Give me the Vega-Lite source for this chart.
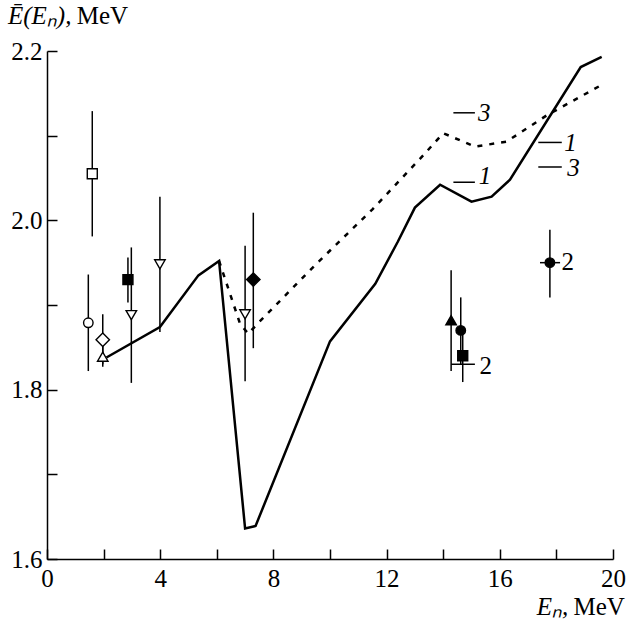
{
  "$schema": "https://vega.github.io/schema/vega-lite/v6.json",
  "width": 566,
  "height": 508,
  "autosize": {"type": "none"},
  "padding": {"left": 47, "top": 51, "right": 15, "bottom": 61},
  "background": "white",
  "config": {
    "view": {"stroke": null},
    "font": "Liberation Serif",
    "text": {"font": "Liberation Serif"},
    "axis": {
      "domainColor": "black",
      "domainWidth": 1.5,
      "tickColor": "black",
      "tickWidth": 1.5,
      "tickSize": -10,
      "labelFont": "Liberation Serif",
      "labelFontSize": 25,
      "labelColor": "black",
      "labelFlush": false,
      "grid": false
    }
  },
  "datasets": {
    "solid": [
      {"E": 2.1, "Ebar": 1.838},
      {"E": 3.99, "Ebar": 1.874},
      {"E": 5.35, "Ebar": 1.935},
      {"E": 6.08, "Ebar": 1.952},
      {"E": 7.0, "Ebar": 1.636},
      {"E": 7.37, "Ebar": 1.639},
      {"E": 10.0, "Ebar": 1.857},
      {"E": 11.6, "Ebar": 1.925},
      {"E": 12.4, "Ebar": 1.975},
      {"E": 13.0, "Ebar": 2.015},
      {"E": 13.89, "Ebar": 2.042},
      {"E": 15.0, "Ebar": 2.022},
      {"E": 15.71, "Ebar": 2.028},
      {"E": 16.36, "Ebar": 2.048},
      {"E": 18.86, "Ebar": 2.181},
      {"E": 19.6, "Ebar": 2.193}
    ],
    "dashed": [
      {"E": 6.08, "Ebar": 1.952},
      {"E": 6.82, "Ebar": 1.878},
      {"E": 7.11, "Ebar": 1.866},
      {"E": 7.47, "Ebar": 1.879},
      {"E": 9.47, "Ebar": 1.947},
      {"E": 11.5, "Ebar": 2.013},
      {"E": 13.3, "Ebar": 2.077},
      {"E": 14.0, "Ebar": 2.103},
      {"E": 15.12, "Ebar": 2.087},
      {"E": 16.24, "Ebar": 2.093},
      {"E": 17.66, "Ebar": 2.124},
      {"E": 19.6, "Ebar": 2.16}
    ],
    "points": [
      {"set": "circle-open", "E": 1.46, "Ebar": 1.879, "lo": 1.822, "hi": 1.936},
      {"set": "square-open", "E": 1.6, "Ebar": 2.055, "lo": 1.981, "hi": 2.129},
      {"set": "diamond-open", "E": 1.97, "Ebar": 1.859, "lo": 1.83, "hi": 1.889},
      {"set": "triangle-up-open", "E": 1.97, "Ebar": 1.839, "lo": 1.827, "hi": 1.851},
      {"set": "square-filled", "E": 2.86, "Ebar": 1.93, "lo": 1.903, "hi": 1.956},
      {"set": "triangle-down-open", "E": 2.98, "Ebar": 1.888, "lo": 1.808, "hi": 1.968},
      {"set": "triangle-down-open", "E": 3.99, "Ebar": 1.948, "lo": 1.868, "hi": 2.028},
      {"set": "triangle-down-open", "E": 7.0, "Ebar": 1.889, "lo": 1.81, "hi": 1.97},
      {"set": "diamond-filled", "E": 7.29, "Ebar": 1.93, "lo": 1.849, "hi": 2.009},
      {"set": "triangle-up-filled", "E": 14.28, "Ebar": 1.882, "lo": 1.822, "hi": 1.941},
      {"set": "circle-filled", "E": 14.62, "Ebar": 1.87, "lo": 1.83, "hi": 1.909},
      {"set": "square-filled", "E": 14.69, "Ebar": 1.84, "lo": 1.809, "hi": 1.87},
      {"set": "circle-filled", "E": 17.77, "Ebar": 1.95, "lo": 1.909, "hi": 1.989}
    ],
    "labels": [
      {"curve": "3", "x1": 14.36, "x2": 15.12, "ly": 2.127, "tx": 15.45, "ty": 2.127},
      {"curve": "1", "x1": 14.36, "x2": 15.12, "ly": 2.045, "tx": 15.48, "ty": 2.052},
      {"curve": "1", "x1": 17.36, "x2": 18.19, "ly": 2.092, "tx": 18.5, "ty": 2.091},
      {"curve": "3", "x1": 17.36, "x2": 18.19, "ly": 2.063, "tx": 18.6, "ty": 2.062},
      {"curve": "2", "x1": 14.28, "x2": 15.12, "ly": 1.83, "tx": 15.5, "ty": 1.828},
      {"curve": "2", "x1": 17.42, "x2": 18.13, "ly": 1.95, "tx": 18.4, "ty": 1.951}
    ]
  },
  "layer": [
    {
      "data": {"name": "solid"},
      "mark": {"type": "line", "color": "black", "strokeWidth": 2.5, "strokeJoin": "miter"},
      "encoding": {
        "x": {
          "field": "E", "type": "quantitative", "title": null,
          "scale": {"domain": [0, 20], "nice": false},
          "axis": {
            "values": [0, 2, 4, 6, 8, 10, 12, 14, 16, 18, 20],
            "format": "d",
            "labelExpr": "datum.value % 4 === 0 ? datum.label : ''",
            "labelPadding": 17
          }
        },
        "y": {
          "field": "Ebar", "type": "quantitative", "title": null,
          "scale": {"domain": [1.6, 2.2], "nice": false, "zero": false},
          "axis": {
            "values": [1.6, 1.7, 1.8, 1.9, 2.0, 2.1, 2.2],
            "labelExpr": "round(datum.value * 10) % 2 === 0 ? format(datum.value, '.1f') : ''",
            "labelPadding": 15
          }
        }
      }
    },
    {
      "data": {"name": "dashed"},
      "mark": {"type": "line", "color": "black", "strokeWidth": 2.5, "strokeDash": [5, 7]},
      "encoding": {
        "x": {"field": "E", "type": "quantitative", "title": null},
        "y": {"field": "Ebar", "type": "quantitative", "title": null}
      }
    },
    {
      "data": {"name": "points"},
      "mark": {"type": "rule", "color": "black", "strokeWidth": 1.5},
      "encoding": {
        "x": {"field": "E", "type": "quantitative", "title": null},
        "y": {"field": "lo", "type": "quantitative", "title": null},
        "y2": {"field": "hi"}
      }
    },
    {
      "data": {"name": "points"},
      "transform": [{"filter": "datum.set === 'circle-open' || datum.set === 'circle-filled'"}],
      "mark": {"type": "point", "shape": "circle", "size": 90, "filled": true, "stroke": "black", "strokeWidth": 1.4, "opacity": 1},
      "encoding": {
        "x": {"field": "E", "type": "quantitative", "title": null},
        "y": {"field": "Ebar", "type": "quantitative", "title": null},
        "fill": {"field": "set", "type": "nominal", "legend": null, "scale": {"domain": ["circle-open", "circle-filled"], "range": ["white", "black"]}}
      }
    },
    {
      "data": {"name": "points"},
      "transform": [{"filter": "datum.set === 'square-open' || datum.set === 'square-filled'"}],
      "mark": {"type": "point", "shape": "square", "size": 100, "filled": true, "stroke": "black", "strokeWidth": 1.4, "opacity": 1},
      "encoding": {
        "x": {"field": "E", "type": "quantitative", "title": null},
        "y": {"field": "Ebar", "type": "quantitative", "title": null},
        "fill": {"field": "set", "type": "nominal", "legend": null, "scale": {"domain": ["square-open", "square-filled"], "range": ["white", "black"]}}
      }
    },
    {
      "data": {"name": "points"},
      "transform": [{"filter": "datum.set === 'diamond-open' || datum.set === 'diamond-filled'"}],
      "mark": {"type": "point", "shape": "M-1,0L0,-1L1,0L0,1Z", "size": 180, "filled": true, "stroke": "black", "strokeWidth": 1.4, "opacity": 1},
      "encoding": {
        "x": {"field": "E", "type": "quantitative", "title": null},
        "y": {"field": "Ebar", "type": "quantitative", "title": null},
        "fill": {"field": "set", "type": "nominal", "legend": null, "scale": {"domain": ["diamond-open", "diamond-filled"], "range": ["white", "black"]}}
      }
    },
    {
      "data": {"name": "points"},
      "transform": [{"filter": "datum.set === 'triangle-up-open' || datum.set === 'triangle-up-filled'"}],
      "mark": {"type": "point", "shape": "triangle-up", "size": 110, "filled": true, "stroke": "black", "strokeWidth": 1.4, "opacity": 1},
      "encoding": {
        "x": {"field": "E", "type": "quantitative", "title": null},
        "y": {"field": "Ebar", "type": "quantitative", "title": null},
        "fill": {"field": "set", "type": "nominal", "legend": null, "scale": {"domain": ["triangle-up-open", "triangle-up-filled"], "range": ["white", "black"]}}
      }
    },
    {
      "data": {"name": "points"},
      "transform": [{"filter": "datum.set === 'triangle-down-open'"}],
      "mark": {"type": "point", "shape": "triangle-down", "size": 110, "filled": true, "fill": "white", "stroke": "black", "strokeWidth": 1.4, "opacity": 1},
      "encoding": {
        "x": {"field": "E", "type": "quantitative", "title": null},
        "y": {"field": "Ebar", "type": "quantitative", "title": null}
      }
    },
    {
      "data": {"name": "labels"},
      "mark": {"type": "rule", "color": "black", "strokeWidth": 1.5},
      "encoding": {
        "x": {"field": "x1", "type": "quantitative", "title": null},
        "x2": {"field": "x2"},
        "y": {"field": "ly", "type": "quantitative", "title": null}
      }
    },
    {
      "data": {"name": "labels"},
      "transform": [{"filter": "datum.curve !== '2'"}],
      "mark": {"type": "text", "font": "Liberation Serif", "fontSize": 25, "fontStyle": "italic", "align": "center", "baseline": "middle", "color": "black"},
      "encoding": {
        "x": {"field": "tx", "type": "quantitative", "title": null},
        "y": {"field": "ty", "type": "quantitative", "title": null},
        "text": {"field": "curve"}
      }
    },
    {
      "data": {"name": "labels"},
      "transform": [{"filter": "datum.curve === '2'"}],
      "mark": {"type": "text", "font": "Liberation Serif", "fontSize": 25, "align": "center", "baseline": "middle", "color": "black"},
      "encoding": {
        "x": {"field": "tx", "type": "quantitative", "title": null},
        "y": {"field": "ty", "type": "quantitative", "title": null},
        "text": {"field": "curve"}
      }
    },
    {
      "data": {"values": [{"t": "Ē(Eₙ),", "x": -1.38, "y": 2.2413}]},
      "mark": {"type": "text", "font": "Liberation Serif", "fontSize": 25, "fontStyle": "italic", "align": "left", "baseline": "middle", "color": "black"},
      "encoding": {
        "x": {"field": "x", "type": "quantitative", "title": null},
        "y": {"field": "y", "type": "quantitative", "title": null},
        "text": {"field": "t"}
      }
    },
    {
      "data": {"values": [{"t": "MeV", "x": 1.05, "y": 2.2413}]},
      "mark": {"type": "text", "font": "Liberation Serif", "fontSize": 25, "align": "left", "baseline": "middle", "color": "black"},
      "encoding": {
        "x": {"field": "x", "type": "quantitative", "title": null},
        "y": {"field": "y", "type": "quantitative", "title": null},
        "text": {"field": "t"}
      }
    },
    {
      "data": {"values": [{"t": "Eₙ,", "x": 18.42, "y": 1.5433}]},
      "mark": {"type": "text", "font": "Liberation Serif", "fontSize": 25, "fontStyle": "italic", "align": "right", "baseline": "middle", "color": "black"},
      "encoding": {
        "x": {"field": "x", "type": "quantitative", "title": null},
        "y": {"field": "y", "type": "quantitative", "title": null},
        "text": {"field": "t"}
      }
    },
    {
      "data": {"values": [{"t": "MeV", "x": 20.42, "y": 1.5433}]},
      "mark": {"type": "text", "font": "Liberation Serif", "fontSize": 25, "align": "right", "baseline": "middle", "color": "black"},
      "encoding": {
        "x": {"field": "x", "type": "quantitative", "title": null},
        "y": {"field": "y", "type": "quantitative", "title": null},
        "text": {"field": "t"}
      }
    }
  ]
}
